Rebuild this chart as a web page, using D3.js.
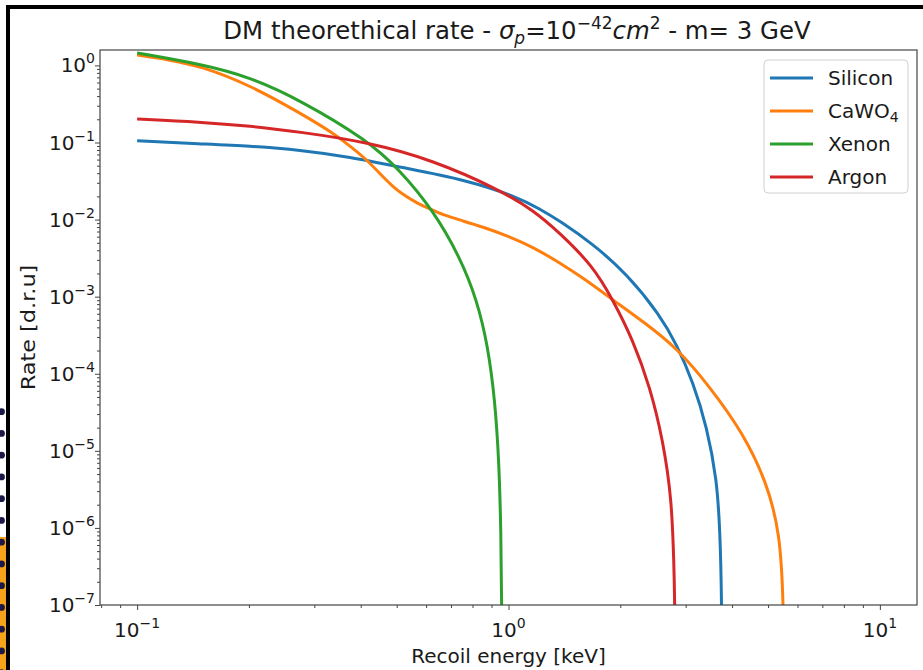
<!DOCTYPE html>
<html><head><meta charset="utf-8">
<script src="https://cdn.jsdelivr.net/npm/d3@7"></script>
<style>body{margin:0;background:#fff}svg{display:block}text{font-family:"DejaVu Sans",sans-serif;fill:#1a1a1a}</style>
</head><body>
<svg id="c" width="923" height="670"></svg>
<script>
// ---- data ----
const seriesNames = ["Silicon", "CaWO4", "Xenon", "Argon"];
const seriesColors = ["#1f77b4", "#ff7f0e", "#2ca02c", "#d62728"];

const siliconE = [0.1, 0.148, 0.201, 0.2745, 0.374, 0.510, 0.773, 1.054, 1.215, 1.375, 1.688, 2.084, 2.557, 2.842, 3.138, 3.423, 3.641, 3.710, 3.756, 3.76];
const siliconR = [0.105, 0.096, 0.0901, 0.080, 0.0649, 0.048, 0.0326, 0.0197, 0.01373, 9.6e-3, 4.83e-3, 1.97e-3, 5.79e-4, 2.36e-4, 7.83e-5, 2.04e-5, 4.2e-6, 9.4e-7, 1.06e-7, 1e-9];

const cawo4E = [0.1, 0.1226, 0.148, 0.201, 0.2745, 0.337, 0.374, 0.416, 0.451, 0.489, 0.526, 0.567, 0.614, 0.666, 0.754, 0.854, 0.9965, 1.164, 1.375, 1.587, 1.911, 2.33, 2.842, 3.487, 4.279, 4.966, 5.381, 5.516, 5.52];
const cawo4R = [1.365, 1.176, 0.983, 0.557, 0.2415, 0.133, 0.0901, 0.0593, 0.0391, 0.0265, 0.0203, 0.0164, 0.01373, 0.01148, 0.0096, 8.02e-3, 6.13e-3, 4.41e-3, 2.74e-3, 1.75e-3, 9.06e-4, 4.56e-4, 2.16e-4, 6.75e-5, 1.71e-5, 3.84e-6, 8.6e-7, 1.06e-7, 1e-9];

const xenonE = [0.1, 0.148, 0.201, 0.2745, 0.416, 0.510, 0.626, 0.740, 0.8225, 0.881, 0.919, 0.9425, 0.954, 0.960, 0.961];
const xenonR = [1.449, 1.043, 0.708, 0.356, 0.1078, 0.044, 0.0133, 3.27e-3, 9.07e-4, 2.23e-4, 4.57e-5, 7.6e-6, 9.4e-7, 1.06e-7, 1e-9];

const argonE = [0.1, 0.148, 0.201, 0.2745, 0.416, 0.626, 0.948, 1.164, 1.375, 1.688, 1.911, 2.163, 2.404, 2.605, 2.754, 2.789, 2.807, 2.81];
const argonR = [0.202, 0.1845, 0.164, 0.137, 0.1016, 0.0593, 0.0242, 0.0133, 6.7e-3, 2.50e-3, 9.06e-4, 2.75e-4, 6.75e-5, 1.39e-5, 2.31e-6, 3.12e-7, 1.06e-7, 1e-9];

const xMajorTicks = [0.1, 1, 10];
const xTickExponents = ["\u22121", "0", "1"];
const yMajorTicks = [1, 0.1, 0.01, 1e-3, 1e-4, 1e-5, 1e-6, 1e-7];
const yTickExponents = ["0", "\u22121", "\u22122", "\u22123", "\u22124", "\u22125", "\u22126", "\u22127"];

// ---- drawing ----
const svg = d3.select("#c");
const L = 100, R = 917, T = 50, B = 605;
const x = d3.scaleLog().domain([Math.pow(10, -1.1), Math.pow(10, 1.1)]).range([L, R]);
const y = d3.scaleLog().domain([1e-7, Math.pow(10, 0.2)]).range([B, T]);

// decorative page frame
const deco = svg.append("g");
deco.append("rect").attr("x", 0).attr("y", 537).attr("width", 7).attr("height", 133).attr("fill", "#f5a31a");
for (let i = 0; i < 13; i++) {
  deco.append("circle").attr("cx", 1.5).attr("cy", 411.7 + i * 21.75).attr("r", 3.4).attr("fill", "#1c1848");
}
deco.append("rect").attr("x", 6).attr("y", 5).attr("width", 4).attr("height", 665).attr("fill", "#000");
deco.append("rect").attr("x", 6).attr("y", 5).attr("width", 917).attr("height", 4).attr("fill", "#000");

// minor ticks
const xMinor = [], yMinor = [];
for (let d = -2; d <= 1; d++) for (let k = 2; k <= 9; k++) {
  const v = k * Math.pow(10, d);
  if (v >= x.domain()[0] && v <= x.domain()[1]) xMinor.push(v);
}
for (let d = -7; d <= 0; d++) for (let k = 2; k <= 9; k++) {
  const v = k * Math.pow(10, d);
  if (v >= y.domain()[0] && v <= y.domain()[1]) yMinor.push(v);
}

const axisColor = "#444";
function styleAxis(g) { g.select(".domain").remove(); g.selectAll("line").attr("stroke", axisColor).attr("stroke-width", 1); }

svg.append("g").attr("transform", `translate(0,${B})`)
  .call(d3.axisBottom(x).tickValues(xMinor).tickSize(3).tickFormat("")).call(styleAxis);
svg.append("g").attr("transform", `translate(0,${B})`)
  .call(d3.axisBottom(x).tickValues(xMajorTicks).tickSize(5).tickFormat("")).call(styleAxis);
svg.append("g").attr("transform", `translate(${L},0)`)
  .call(d3.axisLeft(y).tickValues(yMinor).tickSize(3).tickFormat("")).call(styleAxis);
svg.append("g").attr("transform", `translate(${L},0)`)
  .call(d3.axisLeft(y).tickValues(yMajorTicks).tickSize(5).tickFormat("")).call(styleAxis);

// tick labels
const FS = 20, SUP = 14;
xMajorTicks.forEach((v, i) => {
  const t = svg.append("text").attr("x", x(v)).attr("y", 637).attr("text-anchor", "middle").attr("font-size", FS);
  t.append("tspan").text("10");
  t.append("tspan").attr("font-size", SUP).attr("dy", -9).text(xTickExponents[i]);
});
yMajorTicks.forEach((v, i) => {
  const t = svg.append("text").attr("x", 95).attr("y", y(v) + 7).attr("text-anchor", "end").attr("font-size", FS);
  t.append("tspan").text("10");
  t.append("tspan").attr("font-size", SUP).attr("dy", -9).text(yTickExponents[i]);
});

// axis titles
svg.append("text").attr("x", (L + R) / 2).attr("y", 663).attr("text-anchor", "middle").attr("font-size", FS).text("Recoil energy [keV]");
svg.append("text").attr("transform", `translate(35,${(T + B) / 2}) rotate(-90) scale(1.12,1)`).attr("text-anchor", "middle").attr("font-size", FS).text("Rate [d.r.u]");

// title
const title = svg.append("text").attr("x", 517).attr("y", 39).attr("text-anchor", "middle").attr("font-size", 24.4);
title.append("tspan").text("DM theorethical rate - ");
title.append("tspan").attr("font-style", "italic").text("\u03c3");
title.append("tspan").attr("font-style", "italic").attr("font-size", 17).attr("dy", 5).text("p");
title.append("tspan").attr("dy", -5).text("=10");
title.append("tspan").attr("font-size", 17).attr("dy", -10).text("\u221242");
title.append("tspan").attr("font-style", "italic").attr("dy", 10).text("cm");
title.append("tspan").attr("font-size", 17).attr("dy", -10).text("2");
title.append("tspan").attr("dy", 10).text(" - m= 3 GeV");

// lines
svg.append("clipPath").attr("id", "clip").append("rect").attr("x", L).attr("y", T).attr("width", R - L).attr("height", B - T);
const series = [
  { name: seriesNames[0], E: siliconE, Rt: siliconR, color: seriesColors[0] },
  { name: seriesNames[1], E: cawo4E, Rt: cawo4R, color: seriesColors[1] },
  { name: seriesNames[2], E: xenonE, Rt: xenonR, color: seriesColors[2] },
  { name: seriesNames[3], E: argonE, Rt: argonR, color: seriesColors[3] }
];
const line = d3.line().x(d => x(d[0])).y(d => y(d[1])).curve(d3.curveBasis);
const lg = svg.append("g").attr("clip-path", "url(#clip)");
series.forEach(s => {
  lg.append("path").datum(s.E.map((e, i) => [e, s.Rt[i]]))
    .attr("d", line).attr("fill", "none").attr("stroke", s.color).attr("stroke-width", 3).attr("stroke-linejoin", "round");
});

// spines
svg.append("rect").attr("x", L).attr("y", T).attr("width", R - L).attr("height", B - T)
  .attr("fill", "none").attr("stroke", axisColor).attr("stroke-width", 1.2);

// legend
const leg = svg.append("g");
leg.append("rect").attr("x", 764).attr("y", 60).attr("width", 144).attr("height", 133).attr("rx", 4)
  .attr("fill", "#fff").attr("fill-opacity", 0.8).attr("stroke", "#d0d0d0").attr("stroke-width", 1);
series.forEach((s, i) => {
  const yy = 78 + i * 33;
  leg.append("line").attr("x1", 770).attr("x2", 813).attr("y1", yy).attr("y2", yy).attr("stroke", s.color).attr("stroke-width", 3);
  const t = leg.append("text").attr("x", 828).attr("y", yy + 7).attr("font-size", FS);
  if (s.name === "CaWO4") {
    t.append("tspan").text("CaWO");
    t.append("tspan").attr("font-size", SUP).attr("dy", 4).text("4");
  } else t.text(s.name);
});
</script>
</body></html>
